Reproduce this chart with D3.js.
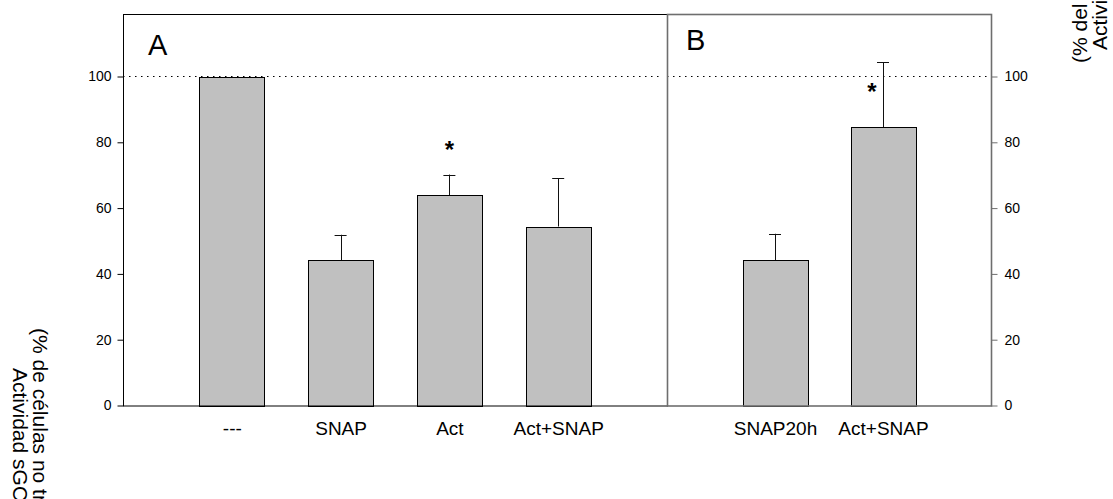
<!DOCTYPE html>
<html lang="es">
<head>
  <meta charset="UTF-8">
  <title>Actividad sGC</title>
  <script src="https://d3js.org/d3.v7.min.js"></script>
  <style>
    body { margin: 0; background: #fff; font-family: "Liberation Sans", Arial, sans-serif; }
    svg { display: block; }
    .tick text { font-size: 14px; fill: #000; }
    .cat .tick text { font-size: 19px; }
    .title { font-size: 21px; }
  </style>
</head>
<body>
  <svg width="1113" height="499"></svg>

  <script>
    // panel A
    const catsA = ["---", "SNAP", "Act", "Act+SNAP"];
    const valsA = [100, 44.1, 63.9, 54.4];
    const errA  = [0, 7.8, 6.3, 14.6];
    // panel B
    const catsB = ["SNAP20h", "Act+SNAP"];
    const valsB = [44.1, 84.6];
    const errB  = [8.1, 19.7];

    const yTicks = [0, 20, 40, 60, 80, 100];
    const refLine = 100;
    const starsA = [{ cat: "Act", at: 75.2 }];
    const starsB = [{ cat: "Act+SNAP", at: 92.8 }];

    const svg = d3.select("svg");

    const y = d3.scaleLinear().domain([0, 119]).range([405.5, 14]);
    const xA = d3.scaleLinear().domain([0, 5]).range([123, 667]);
    const xB = d3.scaleLinear().domain([0, 3]).range([667, 991]);
    const barW = 0.6;

    function panel(x, cats, vals, errs, stars, frameColor, starDx) {
      const g = svg.append("g");
      const x0 = x.range()[0], x1 = x.range()[1];

      // dotted reference line
      g.append("line")
        .attr("x1", x0).attr("x2", x1 - 4)
        .attr("y1", y(refLine)).attr("y2", y(refLine))
        .attr("stroke", "#000")
        .attr("stroke-width", 1.2)
        .attr("stroke-dasharray", "1.5,4.5");

      const w = x(1 + barW) - x(1);
      const data = cats.map((c, i) => ({ c, i: i + 1, v: vals[i], e: errs[i] }));

      // error bars (drawn first so bar top covers the stem base)
      const eb = data.filter(d => d.e > 0);
      g.selectAll(".err").data(eb).enter().append("line")
        .attr("x1", d => Math.round(x(d.i)) + 0.5).attr("x2", d => Math.round(x(d.i)) + 0.5)
        .attr("y1", d => y(d.v)).attr("y2", d => y(d.v + d.e))
        .attr("stroke", "#111");
      g.selectAll(".cap").data(eb).enter().append("line")
        .attr("x1", d => x(d.i) - 6).attr("x2", d => x(d.i) + 6)
        .attr("y1", d => Math.round(y(d.v + d.e)) + 0.5).attr("y2", d => Math.round(y(d.v + d.e)) + 0.5)
        .attr("stroke", "#111");

      g.selectAll("rect.bar").data(data).enter().append("rect")
        .attr("class", "bar")
        .attr("x", d => Math.round(x(d.i) - w / 2) + 0.5)
        .attr("y", d => Math.round(y(d.v)) + 0.5)
        .attr("width", Math.round(w))
        .attr("height", d => Math.round(y(0)) - Math.round(y(d.v)))
        .attr("fill", "#c0c0c0")
        .attr("stroke", "#000")
        .attr("stroke-width", 1);

      // significance stars
      g.selectAll(".star").data(stars).enter().append("text")
        .attr("x", d => x(cats.indexOf(d.cat) + 1) + starDx)
        .attr("y", d => y(d.at))
        .attr("text-anchor", "middle")
        .style("font-size", "24px")
        .style("font-weight", "bold")
        .text("*");

      // frame
      g.append("rect")
        .attr("x", x0 + 0.5).attr("y", y.range()[1] + 0.5)
        .attr("width", x1 - x0).attr("height", y(0) - y.range()[1])
        .attr("fill", "none")
        .attr("stroke", frameColor)
        .attr("stroke-width", frameColor === "#000" ? 1 : 1.6);

      // category labels
      g.append("g")
        .attr("class", "cat")
        .attr("transform", `translate(0,${y(0)})`)
        .call(d3.axisBottom(x).tickValues(d3.range(1, cats.length + 1))
          .tickFormat(i => cats[i - 1]).tickSize(0).tickPadding(16))
        .call(a => a.select(".domain").remove())
        .selectAll("text").style("font-family", "inherit");
      return g;
    }

    panel(xA, catsA, valsA, errA, starsA, "#000", 0);
    panel(xB, catsB, valsB, errB, starsB, "#6e6e6e", -11);

    // left axis
    svg.append("g")
      .attr("transform", `translate(123.5,0)`)
      .call(d3.axisLeft(y).tickValues(yTicks).tickSize(6).tickPadding(6))
      .call(a => a.select(".domain").remove())
      .call(a => a.selectAll("line").attr("stroke", "#000"))
      .selectAll("text").style("font-family", "inherit");

    // right axis
    svg.append("g")
      .attr("transform", `translate(991.5,0)`)
      .call(d3.axisRight(y).tickValues(yTicks).tickSize(6).tickPadding(7))
      .call(a => a.select(".domain").remove())
      .call(a => a.selectAll("line").attr("stroke", "#6e6e6e"))
      .selectAll("text").style("font-family", "inherit");

    // panel letters
    svg.append("text").attr("x", 148).attr("y", 55).style("font-size", "29px").text("A");
    svg.append("text").attr("x", 686).attr("y", 50).style("font-size", "29px").text("B");

    // axis titles (cut by the page edge, as in the original)
    svg.append("text").attr("class", "title")
      .attr("transform", "translate(33,328) rotate(90)")
      .text("(% de células no tratadas)");
    svg.append("text").attr("class", "title")
      .attr("transform", "translate(13,368) rotate(90)")
      .text("Actividad sGC");
    svg.append("text").attr("class", "title")
      .attr("transform", "translate(1087,63) rotate(-90)")
      .text("(% del control)");
    svg.append("text").attr("class", "title")
      .attr("transform", "translate(1107,50) rotate(-90)")
      .text("Actividad sGC");
  </script>
</body>
</html>
